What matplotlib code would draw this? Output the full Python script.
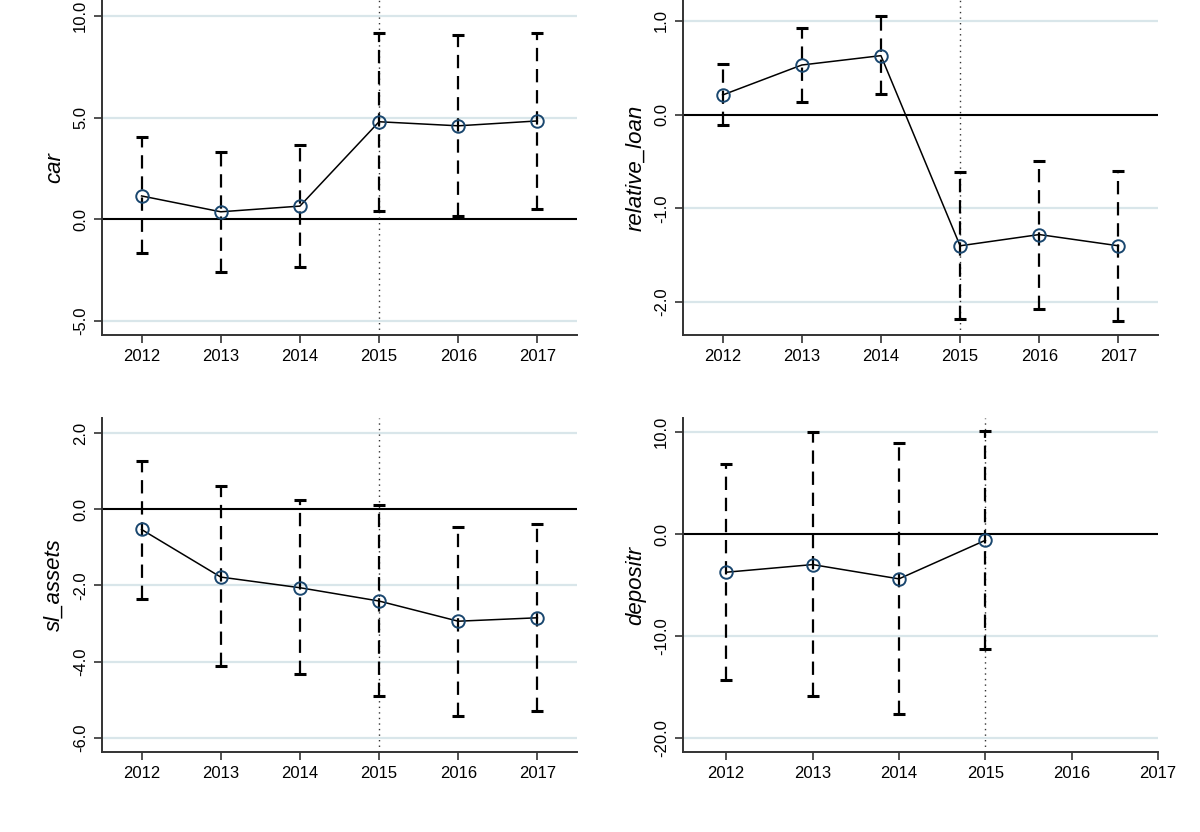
import numpy as np
import matplotlib
matplotlib.use('Agg')
import matplotlib.pyplot as plt

plt.rcParams['font.family'] = ['Liberation Sans', 'DejaVu Sans']
plt.rcParams['font.size'] = 12

years = [2012, 2013, 2014, 2015, 2016, 2017]

car_coef = [1.15, 0.37, 0.65, 4.80, 4.60, 4.84]
car_lo = [-1.67, -2.58, -2.36, 0.42, 0.18, 0.51]
car_hi = [4.05, 3.33, 3.65, 9.18, 9.07, 9.15]

loan_coef = [0.21, 0.53, 0.63, -1.40, -1.28, -1.40]
loan_lo = [-0.11, 0.14, 0.22, -2.18, -2.08, -2.20]
loan_hi = [0.54, 0.93, 1.05, -0.61, -0.49, -0.60]

sl_coef = [-0.53, -1.78, -2.06, -2.41, -2.94, -2.85]
sl_lo = [-2.35, -4.13, -4.33, -4.90, -5.42, -5.31]
sl_hi = [1.26, 0.60, 0.24, 0.12, -0.46, -0.39]

dep_years = [2012, 2013, 2014, 2015]
dep_coef = [-3.75, -3.00, -4.40, -0.62]
dep_lo = [-14.34, -15.90, -17.66, -11.30]
dep_hi = [6.84, 10.00, 8.90, 10.13]

GRID = '#d9e6ea'
NAVY = '#1a476f'


def panel(ax, x, coef, lo, hi, label, yticks, ylim, xlim):
    coef = np.array(coef)
    lo = np.array(lo)
    hi = np.array(hi)
    for t in yticks:
        if t != 0:
            ax.axhline(t, color=GRID, lw=1.6, zorder=0)
    ax.axhline(0, color='black', lw=1.5, zorder=1)
    ax.axvline(2015, color='#333333', lw=1.0, linestyle=(0, (1, 3)), zorder=1)

    eb = ax.errorbar(x, coef, yerr=[coef - lo, hi - coef], fmt='none',
                     ecolor='black', elinewidth=1.6, capsize=4, capthick=2.2, zorder=2)
    eb[2][0].set_linestyle((0, (6, 3.5)))

    ax.plot(x, coef, color='black', lw=1.1, zorder=3)
    ax.plot(x, coef, linestyle='none', marker='o', markersize=9,
            markerfacecolor='none', markeredgecolor=NAVY, markeredgewidth=1.4, zorder=4)

    ax.set_xlim(*xlim)
    ax.set_ylim(*ylim)
    ax.set_xticks(years)
    ax.set_yticks(yticks)
    ax.set_yticklabels(['%.1f' % t for t in yticks], rotation=90, va='center')
    ax.set_ylabel(label, fontsize=16, style='italic', labelpad=6)
    ax.tick_params(axis='both', length=6, width=1.2, color='#333333', labelsize=12, pad=4)
    for s in ['top', 'right']:
        ax.spines[s].set_visible(False)
    for s in ['left', 'bottom']:
        ax.spines[s].set_linewidth(1.4)
        ax.spines[s].set_color('#333333')


fig = plt.figure(figsize=(12, 8.32), dpi=100)

ax1 = fig.add_axes([0.085, 0.5974, 0.3958, 0.4026])
ax2 = fig.add_axes([0.5692, 0.5974, 0.3958, 0.4026])
ax3 = fig.add_axes([0.085, 0.0962, 0.3958, 0.4014])
ax4 = fig.add_axes([0.5692, 0.0962, 0.3958, 0.4014])

panel(ax1, years, car_coef, car_lo, car_hi, 'car',
      [-5, 0, 5, 10], (-5.69, 10.79), (2011.5, 2017.5))
panel(ax2, years, loan_coef, loan_lo, loan_hi, 'relative_loan',
      [-2, -1, 0, 1], (-2.352, 1.224), (2011.5, 2017.5))
panel(ax3, years, sl_coef, sl_lo, sl_hi, 'sl_assets',
      [-6, -4, -2, 0, 2], (-6.376, 2.40), (2011.5, 2017.5))
panel(ax4, dep_years, dep_coef, dep_lo, dep_hi, 'depositr',
      [-20, -10, 0, 10], (-21.38, 11.38), (2011.5, 2017.0))

fig.savefig('out.png', dpi=100)
